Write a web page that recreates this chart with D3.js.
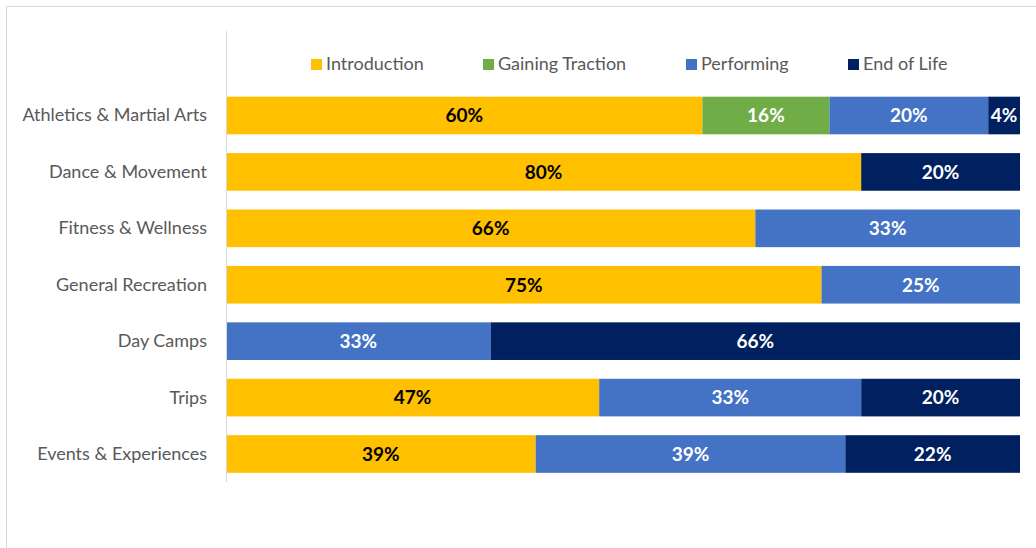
<!DOCTYPE html>
<html>
<head>
<meta charset="utf-8">
<script src="https://cdn.jsdelivr.net/npm/d3@7"></script>
<style>
  html, body { margin: 0; padding: 0; background: #fff; }
  svg { display: block; }
</style>
</head>
<body>
<svg id="chart" width="1036" height="548"></svg>
<script>
const categories = ["Athletics & Martial Arts", "Dance & Movement", "Fitness & Wellness", "General Recreation", "Day Camps", "Trips", "Events & Experiences"];
const seriesNames = ["Introduction", "Gaining Traction", "Performing", "End of Life"];
const introduction    = [60, 80, 66, 75, 0, 47, 39];
const gainingTraction = [16, 0, 0, 0, 0, 0, 0];
const performing      = [20, 0, 33, 25, 33, 33, 39];
const endOfLife       = [4, 20, 0, 0, 66, 20, 22];
const colors = ["#FFC000", "#70AD47", "#4472C4", "#002060"];
const labelColors = ["#000000", "#ffffff", "#ffffff", "#ffffff"];

const seriesValues = [introduction, gainingTraction, performing, endOfLife];
const rows = categories.map((c, i) => {
  const r = { category: c };
  const total = seriesValues.reduce((s, arr) => s + arr[i], 0);
  seriesNames.forEach((n, k) => { r[n] = seriesValues[k][i] / total; r[n + "_raw"] = seriesValues[k][i]; });
  return r;
});

const svg = d3.select("#chart");
const font = "Lato, 'Open Sans', sans-serif";

// chart border
svg.append("rect").attr("x", 6.5).attr("y", 6.5).attr("width", 1040).attr("height", 560)
  .attr("fill", "none").attr("stroke", "#d9d9d9").attr("stroke-width", 1);

const x = d3.scaleLinear().domain([0, 1]).range([226, 1020]);
const y = d3.scaleBand().domain(categories).range([87.3, 482.2]).paddingInner(0.333).paddingOuter(0.1665);

const stack = d3.stack().keys(seriesNames);
const stacked = stack(rows);

const g = svg.append("g");
stacked.forEach((layer, k) => {
  const lg = g.append("g");
  const data = layer.filter(d => d.data[seriesNames[k] + "_raw"] > 0);
  lg.selectAll("rect").data(data).enter().append("rect")
    .attr("x", d => x(d[0]))
    .attr("y", d => y(d.data.category))
    .attr("width", d => x(d[1]) - x(d[0]))
    .attr("height", y.bandwidth())
    .attr("fill", colors[k]);
  lg.selectAll("text").data(data).enter().append("text")
    .attr("x", d => (x(d[0]) + x(d[1])) / 2)
    .attr("y", d => y(d.data.category) + y.bandwidth() / 2)
    .attr("dy", "0.36em")
    .attr("text-anchor", "middle")
    .attr("font-family", font)
    .attr("font-weight", "bold")
    .attr("font-size", 19)
    .attr("fill", labelColors[k])
    .text(d => d.data[seriesNames[k] + "_raw"] + "%");
});

// y axis
const yAxis = d3.axisLeft(y).tickSize(0).tickPadding(19);
const ag = svg.append("g").attr("transform", "translate(226,0)").call(yAxis);
ag.select(".domain").remove();
ag.selectAll("text").attr("font-family", font).attr("font-size", 18).attr("fill", "#595959").attr("dy", "0.33em");
svg.append("line").attr("x1", 226.5).attr("x2", 226.5).attr("y1", 31).attr("y2", 482)
  .attr("stroke", "#d9d9d9").attr("stroke-width", 1);

// legend
const legendX = [311, 483, 686, 848];
const lg = svg.append("g");
seriesNames.forEach((n, k) => {
  lg.append("rect").attr("x", legendX[k]).attr("y", 59).attr("width", 11).attr("height", 11).attr("fill", colors[k]);
  lg.append("text").attr("x", legendX[k] + 15).attr("y", 64).attr("dy", "0.36em")
    .attr("font-family", font).attr("font-size", 18).attr("fill", "#595959").text(n);
});
</script>
</body>
</html>
